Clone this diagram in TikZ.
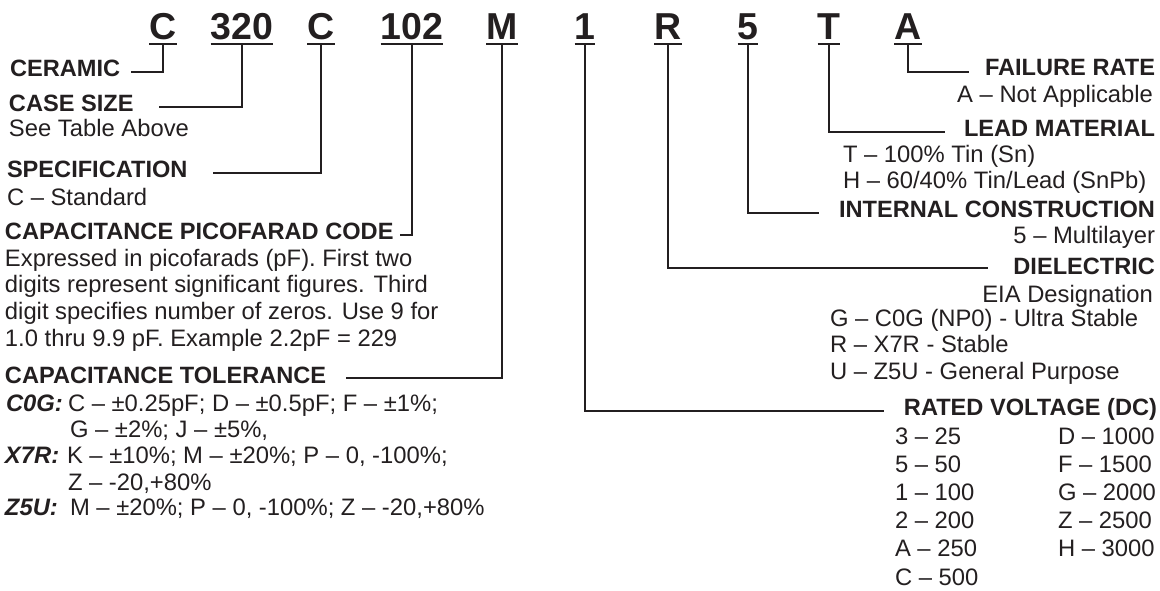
\documentclass[tikz,border=0pt]{standalone}
\usepackage{fontspec}
\setmainfont{Liberation Sans}
\usepackage{xcolor}
\usepackage{tikz}
\usetikzlibrary{positioning}
\definecolor{InkDark}{HTML}{231F20}

\begin{document}
\begin{tikzpicture}[
  x=1pt, y=-1pt,
  every node/.style={inner sep=0pt, outer sep=0pt, text=InkDark},
  code/.style={font=\fontsize{37.5}{40}\selectfont\bfseries, anchor=base},
  head/.style={font=\fontsize{23.6}{26}\selectfont\bfseries},
  desc/.style={font=\fontsize{23.8}{26}\selectfont},
  tag/.style={font=\fontsize{23.8}{26}\selectfont\bfseries\itshape, anchor=base west},
  wire/.style={line width=2.2pt, draw=InkDark}
]
  \useasboundingbox (0,0) rectangle (1160,591);

  \foreach \name/\txt/\x in {codeCer/C/163, codeSize/320/242, codeSpec/C/321,
      codePf/102/412, codeTol/M/502, codeVolt/1/585, codeDiel/R/668,
      codeCons/5/748, codeLead/T/829, codeFail/A/908} {
    \node[code] (\name) at (\x,40) {\txt};
    \draw[wire] ([yshift=-4pt]\name.base west) -- ([yshift=-4pt]\name.base east);
  }

  % left column
  \node[head, anchor=base west] (ceramic) at (10,77) {CERAMIC};
  \node[head, anchor=base west] (casesize) at (9,112) {CASE SIZE};
  \node[desc, anchor=base west] (casedesc) at (9,137) {See Table Above};
  \node[head, anchor=base west] (specif) at (7,178) {SPECIFICATION};
  \node[desc, anchor=base west] (specdesc) at (7,205) {C – Standard};
  \node[head, anchor=base west] (pfcode) at (5,240) {CAPACITANCE PICOFARAD CODE};
  \foreach \txt [count=\i from 0] in {Expressed in picofarads (pF). First two,
      digits represent significant figures. Third,
      digit specifies number of zeros. Use 9 for,
      1.0 thru 9.9 pF. Example 2.2pF = 229}
    \node[desc, anchor=base west] at (5,266+26.7*\i) {\txt};
  \node[head, anchor=base west] (captol) at (5,383) {CAPACITANCE TOLERANCE};
  \node[tag] (tolC) at (6,411) {C0G:};
  \node[desc, anchor=base west] at (68,411) {C – ±0.25pF; D – ±0.5pF; F – ±1\%;};
  \node[desc, anchor=base west] at (70,437) {G – ±2\%; J – ±5\%,};
  \node[tag] (tolX) at (5,463) {X7R:};
  \node[desc, anchor=base west] at (67,463) {K – ±10\%; M – ±20\%; P – 0, -100\%;};
  \node[desc, anchor=base west] at (68,490) {Z – -20,+80\%};
  \node[tag] (tolZ) at (5,515) {Z5U:};
  \node[desc, anchor=base west] at (70,515) {M – ±20\%; P – 0, -100\%; Z – -20,+80\%};

  % right column
  \node[head, anchor=base east] (failrate) at (1155,76) {FAILURE RATE};
  \node[desc, anchor=base east] at (1153,103) {A – Not Applicable};
  \node[head, anchor=base east] (leadmat) at (1155,137) {LEAD MATERIAL};
  \node[desc, anchor=base west] at (843,163) {T – 100\% Tin (Sn)};
  \node[desc, anchor=base west] at (843,189) {H – 60/40\% Tin/Lead (SnPb)};
  \node[head, anchor=base east] (intcons) at (1155,218) {INTERNAL CONSTRUCTION};
  \node[desc, anchor=base east] at (1155,243) {5 – Multilayer};
  \node[head, anchor=base east] (dielec) at (1155,274) {DIELECTRIC};
  \node[desc, anchor=base east] at (1153,302) {EIA Designation};
  \foreach \txt [count=\i from 0] in {G – C0G (NP0) - Ultra Stable,
      R – X7R - Stable, U – Z5U - General Purpose}
    \node[desc, anchor=base west] at (830,326+26.5*\i) {\txt};
  \node[head, anchor=base east] (ratedv) at (1157,415) {RATED VOLTAGE (DC)};
  \foreach \a/\b [count=\i from 0] in {3 – 25/D – 1000, 5 – 50/F – 1500,
      1 – 100/G – 2000, 2 – 200/Z – 2500, A – 250/H – 3000} {
    \node[desc, anchor=base west] at (895,444+28.2*\i) {\a};
    \node[desc, anchor=base west] at (1058,444+28.2*\i) {\b};
  }
  \node[desc, anchor=base west] at (895,585) {C – 500};

  \draw[wire] ([yshift=-4pt]codeCer.base) |- ([shift={(11pt,5pt)}]ceramic.base east);
  \draw[wire] ([yshift=-4pt]codeSize.base) |- ([shift={(25pt,5pt)}]casesize.base east);
  \draw[wire] ([yshift=-4pt]codeSpec.base) |- ([shift={(25pt,5pt)}]specif.base east);
  \draw[wire] ([yshift=-4pt]codePf.base) |- ([shift={(6pt,5pt)}]pfcode.base east);
  \draw[wire] ([yshift=-4pt]codeTol.base) |- ([shift={(20pt,5pt)}]captol.base east);
  \draw[wire] ([yshift=-4pt]codeVolt.base) |- ([shift={(-20pt,4pt)}]ratedv.base west);
  \draw[wire] ([yshift=-4pt]codeDiel.base) |- ([shift={(-25pt,6pt)}]dielec.base west);
  \draw[wire] ([yshift=-4pt]codeCons.base) |- ([shift={(-20pt,5pt)}]intcons.base west);
  \draw[wire] ([yshift=-4pt]codeLead.base) |- ([shift={(-19pt,5pt)}]leadmat.base west);
  \draw[wire] ([yshift=-4pt]codeFail.base) |- ([shift={(-16pt,4pt)}]failrate.base west);
\end{tikzpicture}
\end{document}
